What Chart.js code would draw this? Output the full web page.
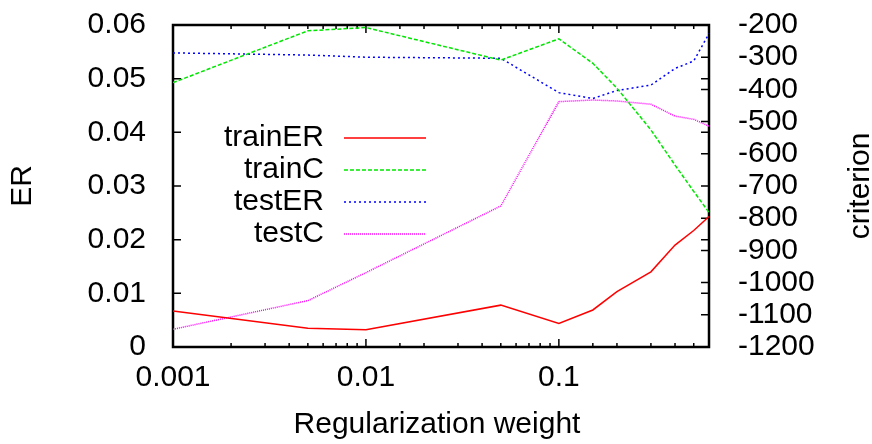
<!DOCTYPE html>
<html>
<head>
<meta charset="utf-8">
<script src="https://cdn.jsdelivr.net/npm/chart.js@4.4.1/dist/chart.umd.min.js"></script>
<style>
  html, body { margin: 0; padding: 0; background: #fff; }
  #wrap { width: 872px; height: 444px; }
</style>
</head>
<body>
<div id="wrap"><canvas id="regChart" width="872" height="444"></canvas></div>
<script>
// regularization weights (x, log scale)
const weights = [0.001, 0.005, 0.01, 0.05, 0.1, 0.15, 0.2, 0.3, 0.4, 0.5, 0.6]

// error rates, left axis
const trainER = [0.0067, 0.0035, 0.0032, 0.0078, 0.0044, 0.0069, 0.0103, 0.0140, 0.0190, 0.0217, 0.0243]
const testER = [0.0548, 0.0544, 0.0540, 0.0538, 0.0474, 0.0463, 0.0478, 0.0488, 0.0519, 0.0533, 0.0584]

// criterion, right axis
const trainC = [-379, -218, -208, -309, -243, -319, -396, -526, -635, -717, -782]
const testC = [-1145, -1056, -969, -762, -438, -433, -436, -446, -483, -493, -514]

const FONT = "'Liberation Sans', Arial, sans-serif"
const FSIZE = 30

const pts = (vals) => weights.map((w, i) => ({ x: w, y: vals[i] }))
const isDecade = (v) => {
  const l = Math.log10(v)
  return Math.abs(l - Math.round(l)) < 1e-6
}

// fixed axis boxes so the plot area lands where gnuplot put it
const fixBox = (w) => (s) => {
  s.width = w
  s.paddingTop = 0
  s.paddingBottom = 0
}

// gnuplot style frame, inward ticks, legend and the two extra titles
const framePlugin = {
  id: 'frame',
  beforeDatasetsDraw(chart) {
    const { ctx, chartArea: a, scales } = chart
    ctx.save()
    ctx.strokeStyle = '#000'
    ctx.lineWidth = 1.5
    ctx.beginPath()
    scales.x.ticks.forEach((t) => {
      const px = scales.x.getPixelForValue(t.value)
      const len = isDecade(t.value) ? 8 : 4
      ctx.moveTo(px, a.bottom)
      ctx.lineTo(px, a.bottom - len)
      ctx.moveTo(px, a.top)
      ctx.lineTo(px, a.top + len)
    })
    scales.y.ticks.forEach((t) => {
      const py = scales.y.getPixelForValue(t.value)
      ctx.moveTo(a.left, py)
      ctx.lineTo(a.left + 8, py)
      ctx.moveTo(a.right, py)
      ctx.lineTo(a.right - 8, py)
    })
    scales.y2.ticks.forEach((t) => {
      const py = scales.y2.getPixelForValue(t.value)
      ctx.moveTo(a.right, py)
      ctx.lineTo(a.right - 8, py)
    })
    ctx.stroke()
    ctx.lineWidth = 2.5
    ctx.strokeRect(a.left, a.top, a.right - a.left, a.bottom - a.top)
    ctx.restore()
  },
  afterDraw(chart) {
    const { ctx, chartArea: a } = chart
    ctx.save()
    ctx.font = FSIZE + 'px ' + FONT
    ctx.fillStyle = '#000'
    ctx.textBaseline = 'middle'

    // legend: right aligned label, sample line to the right
    chart.data.datasets.forEach((ds, i) => {
      const y = a.top + 113 + i * 32
      ctx.textAlign = 'right'
      ctx.fillText(ds.label, a.left + 151, y)
      ctx.strokeStyle = ds.borderColor
      ctx.lineWidth = ds.borderWidth
      ctx.setLineDash(ds.borderDash || [])
      ctx.beginPath()
      ctx.moveTo(a.left + 171, y)
      ctx.lineTo(a.left + 253, y)
      ctx.stroke()
    })
    ctx.setLineDash([])

    // x title
    ctx.textAlign = 'center'
    ctx.fillText('Regularization weight', 437, 425)

    // right title, reading bottom to top
    ctx.translate(861, (a.top + a.bottom) / 2)
    ctx.rotate(-Math.PI / 2)
    ctx.fillText('criterion', 0, 0)
    ctx.restore()
  },
}

new Chart(document.getElementById('regChart'), {
  type: 'line',
  data: {
    datasets: [
      {
        label: 'trainER',
        data: pts(trainER),
        yAxisID: 'y',
        borderColor: '#ff0000',
        borderWidth: 1.5,
      },
      {
        label: 'trainC',
        data: pts(trainC),
        yAxisID: 'y2',
        borderColor: '#00e600',
        borderWidth: 1.5,
        borderDash: [4, 2],
      },
      {
        label: 'testER',
        data: pts(testER),
        yAxisID: 'y',
        borderColor: '#0000ff',
        borderWidth: 1.5,
        borderDash: [2, 3],
      },
      {
        label: 'testC',
        data: pts(testC),
        yAxisID: 'y2',
        borderColor: '#ff00ff',
        borderWidth: 1.5,
        borderDash: [1, 1],
      },
    ],
  },
  options: {
    responsive: false,
    animation: false,
    devicePixelRatio: 1,
    layout: { padding: { top: 25, right: 0, bottom: 0, left: 0 } },
    elements: {
      point: { radius: 0 },
      line: { tension: 0, fill: false },
    },
    plugins: {
      legend: { display: false },
      tooltip: { enabled: false },
    },
    scales: {
      x: {
        type: 'logarithmic',
        min: 0.001,
        max: 0.6,
        grid: { display: false },
        border: { display: false },
        ticks: {
          autoSkip: false,
          maxRotation: 0,
          padding: 5,
          color: '#000',
          font: { family: FONT, size: FSIZE },
          callback: (v) => (isDecade(v) ? String(v) : ''),
        },
        afterFit: (s) => {
          s.height = 97
          s.paddingLeft = 0
          s.paddingRight = 0
        },
      },
      y: {
        position: 'left',
        min: 0,
        max: 0.06,
        grid: { display: false },
        border: { display: false },
        ticks: {
          stepSize: 0.01,
          autoSkip: false,
          padding: 19,
          color: '#000',
          font: { family: FONT, size: FSIZE },
          callback: (v) => String(+v.toFixed(2)),
        },
        title: {
          display: true,
          text: 'ER',
          color: '#000',
          font: { family: FONT, size: FSIZE, lineHeight: 1 },
          padding: { top: 8, bottom: 0 },
        },
        afterFit: fixBox(173),
      },
      y2: {
        position: 'right',
        min: -1200,
        max: -200,
        grid: { display: false },
        border: { display: false },
        ticks: {
          stepSize: 100,
          autoSkip: false,
          padding: 21,
          color: '#000',
          font: { family: FONT, size: FSIZE },
          callback: (v) => String(v),
        },
        afterFit: fixBox(163),
      },
    },
  },
  plugins: [framePlugin],
})
</script>
</body>
</html>
